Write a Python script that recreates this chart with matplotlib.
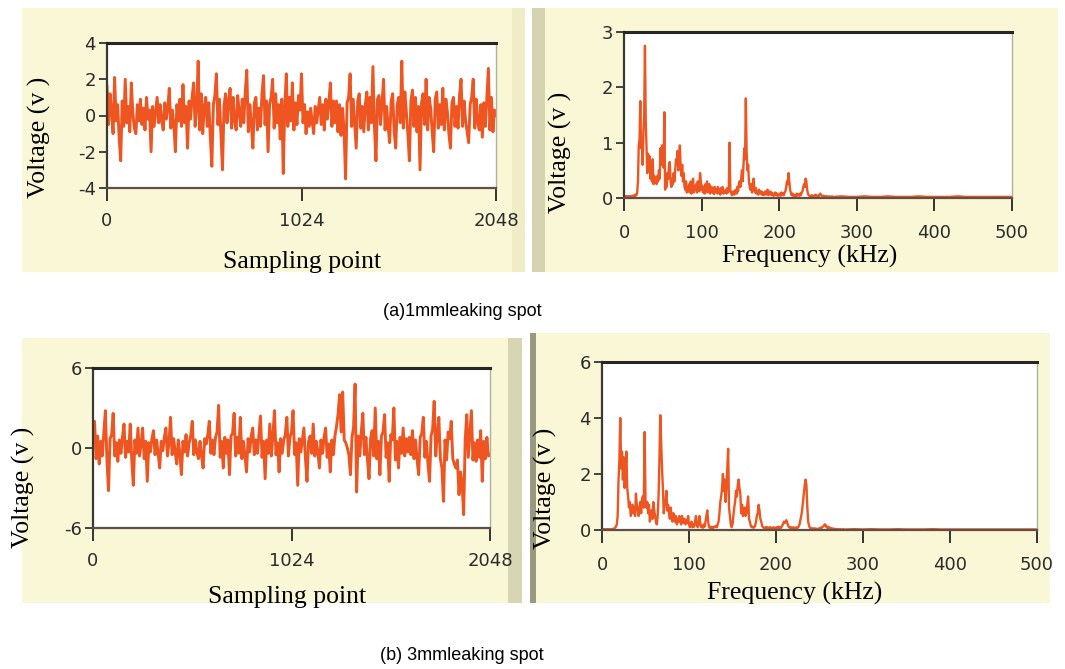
import numpy as np
import matplotlib
matplotlib.use("Agg")
import matplotlib.pyplot as plt
from matplotlib.patches import Rectangle

plt.rcParams["axes.unicode_minus"] = False

# ---------------- data ----------------
# (a) 1 mm leak: time signal, one value about every 8 sampling points
sig_a = [1.6, -0.5, 1.2, 0.2, -1.0, 2.1, -0.3, 0.6, -1.2, -2.5,
         0.8, -0.6, 2.0, -0.4, 0.5, -0.9, 1.8, 0.1, -0.7, -1.0,
         0.6, -0.3, 0.9, -0.5, 0.4, -0.8, 1.0, -0.2, 0.3, -2.0,
         0.5, -0.6, 0.2, 1.0, -0.4, 0.6, -0.3, -0.8, 0.7, -0.2,
         0.4, 1.5, -0.7, 0.3, -0.5, -2.0, 0.6, -0.3, 0.9, -0.6,
         1.7, -0.4, 0.5, -1.8, 0.8, -0.2, 1.0, 1.8, -0.6, 0.4,
         3.0, -0.8, 1.2, -1.0, 0.5, 1.0, -0.6, 0.7, -1.2, -2.8,
         0.6, 1.1, 2.3, -0.5, 0.9, -1.1, -3.0, 0.5, 1.2, -0.4,
         0.8, 1.5, -0.7, 1.0, -0.3, -0.8, 1.1, 0.2, -0.6, 0.9,
         -0.4, 1.3, 2.5, -0.9, 0.6, -0.5, -1.8, 0.7, 1.0, -0.8,
         0.4, -0.6, 1.2, 2.2, -0.5, 0.8, -2.0, 0.6, 1.0, 2.0,
         -0.7, 1.2, -0.4, 0.6, -1.3, 0.9, -3.2, 0.5, 2.3, -0.6,
         1.0, -0.3, 1.8, -0.8, 0.7, -0.5, 1.1, 0.3, 2.3, -0.4,
         0.6, -1.0, 0.2, -0.6, 0.4, -0.3, -1.0, 0.5, -0.4, 0.3,
         1.0, -0.5, 0.6, -0.8, 0.9, -0.2, 0.7, 1.8, -0.6, 0.8,
         -0.4, 0.8, -0.9, 0.6, -1.1, 0.4, -0.8, -3.5, 0.7, 1.0,
         2.3, -0.6, 0.9, -0.5, -1.8, 0.8, 1.2, -0.7, 0.5, -0.9,
         0.6, 1.3, -0.8, 1.0, -0.4, 2.7, -0.6, -2.5, 0.9, 1.1,
         -0.5, 0.7, 2.0, -0.8, 0.5, -0.6, -1.5, 0.8, 1.2, -0.9,
         -1.8, 0.6, 1.0, -0.4, 3.0, -0.7, 1.3, 0.2, -1.0, -2.5,
         0.8, 1.4, -0.6, 1.0, -0.9, 0.5, -3.0, 0.7, 1.2, -0.5,
         2.0, -0.8, 1.0, 0.4, -0.9, -2.0, 0.9, 1.3, -0.7, 0.6,
         -0.5, 1.5, -0.8, 0.9, 0.2, -1.0, -1.8, 0.7, 1.0, -0.6,
         0.5, -0.7, 1.1, 2.0, -0.6, 0.8, -0.3, -0.9, -1.5, 0.6,
         1.0, 2.0, -0.7, 0.9, -0.4, -0.8, 0.6, -1.2, 0.7, -0.6,
         1.0, 2.6, -0.8, 1.0, -0.9, 0.3, 0.0]

# (b) 3 mm leak: time signal
sig_b = [1.5, 2.0, -0.8, 0.9, -1.2, 0.5, -0.6, 1.2, 2.8, -0.9,
         -3.2, 0.7, 1.0, 2.6, -0.6, 0.4, -1.0, 0.6, -0.4, 0.8,
         1.8, -0.7, 0.5, -0.3, 1.8, -0.9, -2.8, 0.6, -0.4, 1.5,
         -0.6, 0.3, 1.5, -0.8, 0.5, -2.5, 0.4, -0.3, 0.7, 1.3,
         -0.5, 0.6, -0.4, -1.5, 0.5, -0.2, 0.8, 1.5, -0.6, 0.4,
         2.3, -0.5, 0.7, -0.3, -1.2, 0.6, -0.4, -2.0, 0.5, -0.3,
         1.0, -0.6, 0.4, 0.9, 2.0, -0.5, 0.6, -0.3, -0.8, 0.5,
         -0.6, -1.5, 0.7, 0.3, 1.0, 2.0, -0.4, 0.6, -0.5, 0.8,
         1.2, 3.2, -0.7, 0.5, -1.5, 0.8, -0.4, 0.6, -2.0, 0.9,
         1.1, 2.6, -0.6, 0.8, -0.4, 2.3, -0.8, 0.5, -0.6, -1.8,
         0.7, -0.3, 0.9, 1.5, -0.5, 0.6, -0.4, 1.0, 2.4, -0.7,
         0.5, -2.3, 0.6, -0.4, 1.8, -0.6, 0.9, 2.8, -0.5, 0.4,
         -1.8, 0.7, -0.4, 0.6, 1.0, 2.3, -0.6, 0.8, 1.2, 2.8,
         -0.5, 0.4, -2.8, 0.7, -0.3, 0.6, 1.5, -0.8, -2.5, 0.5,
         0.9, -0.4, 1.8, -0.6, 0.5, -0.3, -1.5, 0.6, -0.4, 0.8,
         1.5, -0.7, 0.3, -1.8, 0.6, -0.5, 0.9, 1.6, 2.5, 4.0,
         1.2, 4.2, 0.6, 0.4, 0.0, -0.5, -2.0, 0.8, 1.5, 4.8,
         -3.3, 0.9, -0.6, 1.2, 2.6, -0.5, 0.8, -0.9, -2.3, 0.7,
         1.3, -0.6, 3.0, -0.8, 0.5, -2.0, 0.9, 1.2, 2.5, -0.7,
         0.4, -2.5, 1.0, 0.6, 3.0, -0.9, 0.5, -1.5, 0.8, -0.4,
         1.5, -0.6, 0.7, -0.3, 0.8, -0.5, 1.3, -0.8, 0.6, -0.9,
         -2.0, 0.8, 1.1, 2.3, -0.7, 0.5, -1.2, -2.5, 0.9, 1.4,
         3.5, -0.6, 1.0, 2.3, -0.8, -1.5, -4.0, 0.6, -0.9, 1.2,
         0.7, 2.0, -0.8, -1.2, -1.5, -0.9, -3.5, -1.8, -2.6, -5.0,
         0.6, 2.5, -0.7, 1.1, 2.8, -0.9, 0.4, -1.0, 0.6, -0.7,
         1.3, -2.5, 0.5, -0.8, 0.8, -0.6, -0.5]

# (a) spectrum: 1 kHz steps 0..269 kHz, then 10 kHz steps to 500 kHz
freq_a = np.concatenate([np.arange(0, 270), np.arange(270, 501, 10)])
amp_a = [0.02, 0.03, 0.02, 0.03, 0.02, 0.03, 0.02, 0.03, 0.02, 0.03,
         0.02, 0.04, 0.03, 0.05, 0.03, 0.06, 0.05, 0.10, 0.30, 0.95,
         1.05, 1.75, 0.9, 1.1, 0.6, 1.2, 1.5, 2.75, 1.4, 0.9,
         0.45, 0.8, 0.55, 0.75, 0.35, 0.6, 0.3, 0.7, 0.25, 0.4,
         0.3, 0.35, 0.25, 0.4, 0.3, 0.5, 0.35, 0.9, 0.6, 0.95,
         0.7, 0.55, 1.55, 0.15, 0.3, 0.2, 0.45, 0.35, 0.6, 0.65,
         0.3, 0.2, 0.35, 0.25, 0.45, 0.3, 0.5, 0.7, 0.6, 0.85,
         0.5, 0.7, 0.95, 0.55, 0.4, 0.6, 0.3, 0.45, 0.2, 0.15,
         0.3, 0.1, 0.2, 0.12, 0.25, 0.1, 0.3, 0.08, 0.18, 0.35,
         0.1, 0.2, 0.15, 0.25, 0.1, 0.3, 0.2, 0.12, 0.45, 0.3,
         0.15, 0.22, 0.1, 0.18, 0.08, 0.25, 0.12, 0.3, 0.1, 0.2,
         0.25, 0.08, 0.15, 0.2, 0.1, 0.18, 0.07, 0.2, 0.12, 0.15,
         0.08, 0.2, 0.1, 0.15, 0.06, 0.18, 0.1, 0.2, 0.08, 0.12,
         0.1, 0.15, 0.08, 0.18, 0.1, 0.12, 1.0, 0.15, 0.1, 0.05,
         0.08, 0.12, 0.06, 0.1, 0.15, 0.08, 0.2, 0.12, 0.25, 0.3,
         0.2, 0.35, 0.5, 0.3, 0.6, 0.9, 0.7, 1.8, 0.85, 0.5,
         0.6, 0.3, 0.2, 0.15, 0.25, 0.1, 0.2, 0.35, 0.15, 0.1,
         0.18, 0.08, 0.12, 0.06, 0.15, 0.1, 0.08, 0.12, 0.06, 0.1,
         0.05, 0.08, 0.12, 0.06, 0.1, 0.15, 0.05, 0.08, 0.12, 0.06,
         0.1, 0.05, 0.08, 0.04, 0.06, 0.1, 0.05, 0.08, 0.04, 0.06,
         0.05, 0.08, 0.04, 0.1, 0.06, 0.08, 0.05, 0.1, 0.12, 0.2,
         0.3, 0.25, 0.45, 0.3, 0.15, 0.1, 0.05, 0.08, 0.04, 0.06,
         0.04, 0.06, 0.03, 0.08, 0.05, 0.06, 0.04, 0.08, 0.05, 0.1,
         0.12, 0.2, 0.25, 0.2, 0.35, 0.3, 0.15, 0.08, 0.05, 0.04,
         0.03, 0.04, 0.05, 0.03, 0.04, 0.03, 0.05, 0.06, 0.04, 0.03,
         0.04, 0.03, 0.06, 0.08, 0.05, 0.04, 0.03, 0.04, 0.03, 0.02,
         0.03, 0.02, 0.03, 0.02, 0.02, 0.03, 0.02, 0.02, 0.03, 0.02,
         0.02, 0.03, 0.02, 0.02, 0.03, 0.02, 0.02, 0.03, 0.02, 0.02,
         0.02, 0.03, 0.02, 0.02, 0.02, 0.02, 0.03, 0.02, 0.02, 0.02,
         0.02, 0.02, 0.02, 0.02]

# (b) spectrum: 1 kHz steps 0..279 kHz, then 10 kHz steps to 500 kHz
freq_b = np.concatenate([np.arange(0, 280), np.arange(280, 501, 10)])
amp_b = [0.02, 0.03, 0.02, 0.03, 0.02, 0.03, 0.02, 0.03, 0.02, 0.03,
         0.02, 0.03, 0.04, 0.03, 0.05, 0.08, 0.12, 0.2, 0.5, 1.8,
         2.5, 4.0, 2.2, 2.8, 1.8, 2.6, 1.5, 2.0, 2.8, 1.5,
         1.2, 0.8, 1.0, 0.5, 0.7, 0.9, 0.6, 0.8, 0.5, 1.3,
         0.9, 0.7, 0.5, 0.8, 1.0, 0.6, 1.1, 1.2, 0.8, 3.5,
         1.1, 0.8, 1.0, 0.6, 0.9, 0.3, 0.5, 0.7, 0.4, 1.0,
         0.7, 0.5, 0.3, 0.2, 0.5, 1.2, 2.5, 4.1, 3.1, 2.2,
         1.5, 0.6, 0.9, 1.0, 1.4, 0.7, 0.9, 0.6, 0.4, 0.8,
         0.5, 0.3, 0.6, 0.4, 0.3, 0.5, 0.2, 0.4, 0.3, 0.5,
         0.3, 0.2, 0.5, 0.3, 0.25, 0.4, 0.2, 0.35, 0.25, 0.5,
         0.2, 0.1, 0.15, 0.3, 0.1, 0.2, 0.12, 0.3, 0.5, 0.2,
         0.1, 0.2, 0.5, 0.25, 0.1, 0.15, 0.08, 0.2, 0.12, 0.3,
         0.5, 0.7, 0.3, 0.1, 0.08, 0.12, 0.06, 0.1, 0.08, 0.12,
         0.1, 0.15, 0.1, 0.2, 0.3, 0.6, 1.0, 1.2, 1.5, 2.0,
         1.4, 1.8, 1.0, 1.5, 2.2, 2.9, 0.8, 0.5, 0.2, 0.1,
         0.2, 0.5, 0.8, 1.0, 1.4, 1.2, 1.6, 1.8, 1.5, 1.3,
         0.6, 0.9, 0.5, 0.7, 0.8, 0.5, 0.6, 0.9, 1.2, 0.4,
         0.3, 0.15, 0.1, 0.12, 0.08, 0.1, 0.15, 0.3, 0.5, 0.6,
         0.9, 0.7, 0.4, 0.3, 0.15, 0.1, 0.08, 0.05, 0.1, 0.06,
         0.1, 0.08, 0.05, 0.1, 0.06, 0.08, 0.04, 0.1, 0.06, 0.08,
         0.05, 0.1, 0.08, 0.12, 0.06, 0.1, 0.08, 0.15, 0.2, 0.3,
         0.25, 0.3, 0.35, 0.25, 0.15, 0.1, 0.08, 0.1, 0.06, 0.08,
         0.1, 0.06, 0.08, 0.05, 0.1, 0.08, 0.12, 0.2, 0.35, 0.5,
         0.7, 1.0, 1.3, 1.6, 1.8, 1.6, 0.8, 0.3, 0.15, 0.08,
         0.05, 0.06, 0.04, 0.05, 0.06, 0.04, 0.05, 0.03, 0.04, 0.05,
         0.06, 0.08, 0.05, 0.1, 0.12, 0.15, 0.2, 0.18, 0.1, 0.08,
         0.12, 0.06, 0.08, 0.05, 0.06, 0.04, 0.05, 0.03, 0.04, 0.03,
         0.03, 0.02, 0.03, 0.02, 0.03, 0.02, 0.02, 0.03, 0.02, 0.02,
         0.02, 0.03, 0.02, 0.03, 0.02, 0.02, 0.03, 0.02, 0.02, 0.02,
         0.03, 0.02, 0.02, 0.02, 0.02, 0.02, 0.02, 0.02, 0.02, 0.02,
         0.02, 0.02, 0.02]

time_ticks = [0, 1024, 2048]
freq_ticks = [0, 100, 200, 300, 400, 500]
yt_a_time = [-4, -2, 0, 2, 4]
yt_b_time = [-6, 0, 6]
yt_a_freq = [0, 1, 2, 3]
yt_b_freq = [0, 2, 4, 6]
caption_a = "(a)1mmleaking spot"
caption_b = "(b) 3mmleaking spot"

# ---------------- figure ----------------
W, H = 1065, 669
fig = plt.figure(figsize=(W / 100, H / 100), dpi=100)
fig.patch.set_facecolor("white")

def fx(x):
    return x / W

def fy(y):
    return 1 - y / H

def box(x0, y0, x1, y1, color):
    fig.patches.append(Rectangle((fx(x0), fy(y1)), fx(x1 - x0), (y1 - y0) / H,
                                 transform=fig.transFigure, facecolor=color,
                                 edgecolor="none", zorder=-10))

# yellow instrument panels
yellow = "#F9F7D5"
box(22, 8, 525, 272, yellow)
box(545, 8, 1058, 272, yellow)
box(22, 338, 522, 603, yellow)
box(536, 333, 1050, 603, yellow)
# darker shading at panel edges
box(512, 8, 525, 272, "#F0EDC6")
box(532, 8, 545, 272, "#D6D3B0")
box(508, 338, 522, 603, "#D8D5B2")
box(530, 333, 536, 603, "#9A997F")

line_col = "#EE5520"
tick_font = dict(family="DejaVu Sans", size=13, color="#2b2b2b")
label_font = dict(family="Liberation Serif", size=18.5, color="black")

def style(ax, xpad):
    ax.set_facecolor("white")
    ax.spines["top"].set_linewidth(2.2)
    ax.spines["top"].set_color("#262626")
    ax.spines["left"].set_linewidth(1.6)
    ax.spines["left"].set_color("#3a3a30")
    ax.spines["bottom"].set_linewidth(1.6)
    ax.spines["bottom"].set_color("#5e5048")
    ax.spines["right"].set_linewidth(1.0)
    ax.spines["right"].set_color("#b0b0a0")
    ax.tick_params(axis="y", direction="out", length=6, width=1.3,
                   color="#333333", pad=2)
    ax.tick_params(axis="x", direction="out", length=9, width=1.4,
                   color="#333333", pad=xpad)
    for lab in ax.get_xticklabels() + ax.get_yticklabels():
        lab.set_fontfamily(tick_font["family"])
        lab.set_fontsize(tick_font["size"])
        lab.set_color(tick_font["color"])

def add_axes(x0, y0, x1, y1):
    ax = fig.add_axes([fx(x0), fy(y1), fx(x1 - x0), (y1 - y0) / H])
    ax.set_zorder(1)
    return ax

# (a) time
ax1 = add_axes(107, 43, 496, 188)
ax1.plot(np.linspace(0, 2048, len(sig_a)), sig_a, color=line_col, lw=2.1)
ax1.set_xlim(0, 2048)
ax1.set_ylim(-4, 4)
ax1.set_xticks(time_ticks)
ax1.set_yticks(yt_a_time)
style(ax1, 8)

# (a) spectrum
ax2 = add_axes(624, 32, 1012, 198)
ax2.plot(freq_a, amp_a, color=line_col, lw=1.7)
ax2.set_xlim(0, 500)
ax2.set_ylim(0, 3)
ax2.set_xticks(freq_ticks)
ax2.set_yticks(yt_a_freq)
style(ax2, 10)

# (b) time
ax3 = add_axes(93, 368, 490, 528)
ax3.plot(np.linspace(0, 2048, len(sig_b)), sig_b, color=line_col, lw=2.1)
ax3.set_xlim(0, 2048)
ax3.set_ylim(-6, 6)
ax3.set_xticks(time_ticks)
ax3.set_yticks(yt_b_time)
style(ax3, 8)

# (b) spectrum
ax4 = add_axes(602, 362, 1037, 530)
ax4.plot(freq_b, amp_b, color=line_col, lw=1.7)
ax4.set_xlim(0, 500)
ax4.set_ylim(0, 6)
ax4.set_xticks(freq_ticks)
ax4.set_yticks(yt_b_freq)
style(ax4, 10)

# axis labels as figure text (pixel placement)
def txt(x, y, s, rot=0, **kw):
    fig.text(fx(x), fy(y), s, rotation=rot, ha="center", va="center",
             zorder=5, **kw)

txt(39, 137, "Voltage (v )", rot=90, **label_font)
txt(302, 262, "Sampling point", **label_font)
txt(560, 152, "Voltage (v )", rot=90, **label_font)
txt(810, 256, "Frequency (kHz)", **label_font)
txt(23, 487, "Voltage (v )", rot=90, **label_font)
txt(287, 597, "Sampling point", **label_font)
txt(545, 488, "Voltage (v )", rot=90, **label_font)
txt(795, 593, "Frequency (kHz)", **label_font)

txt(462, 312, caption_a, family="Liberation Sans", size=13, color="black")
txt(462, 655, caption_b, family="Liberation Sans", size=13, color="black")

fig.savefig("out.png", dpi=100, facecolor="white")
